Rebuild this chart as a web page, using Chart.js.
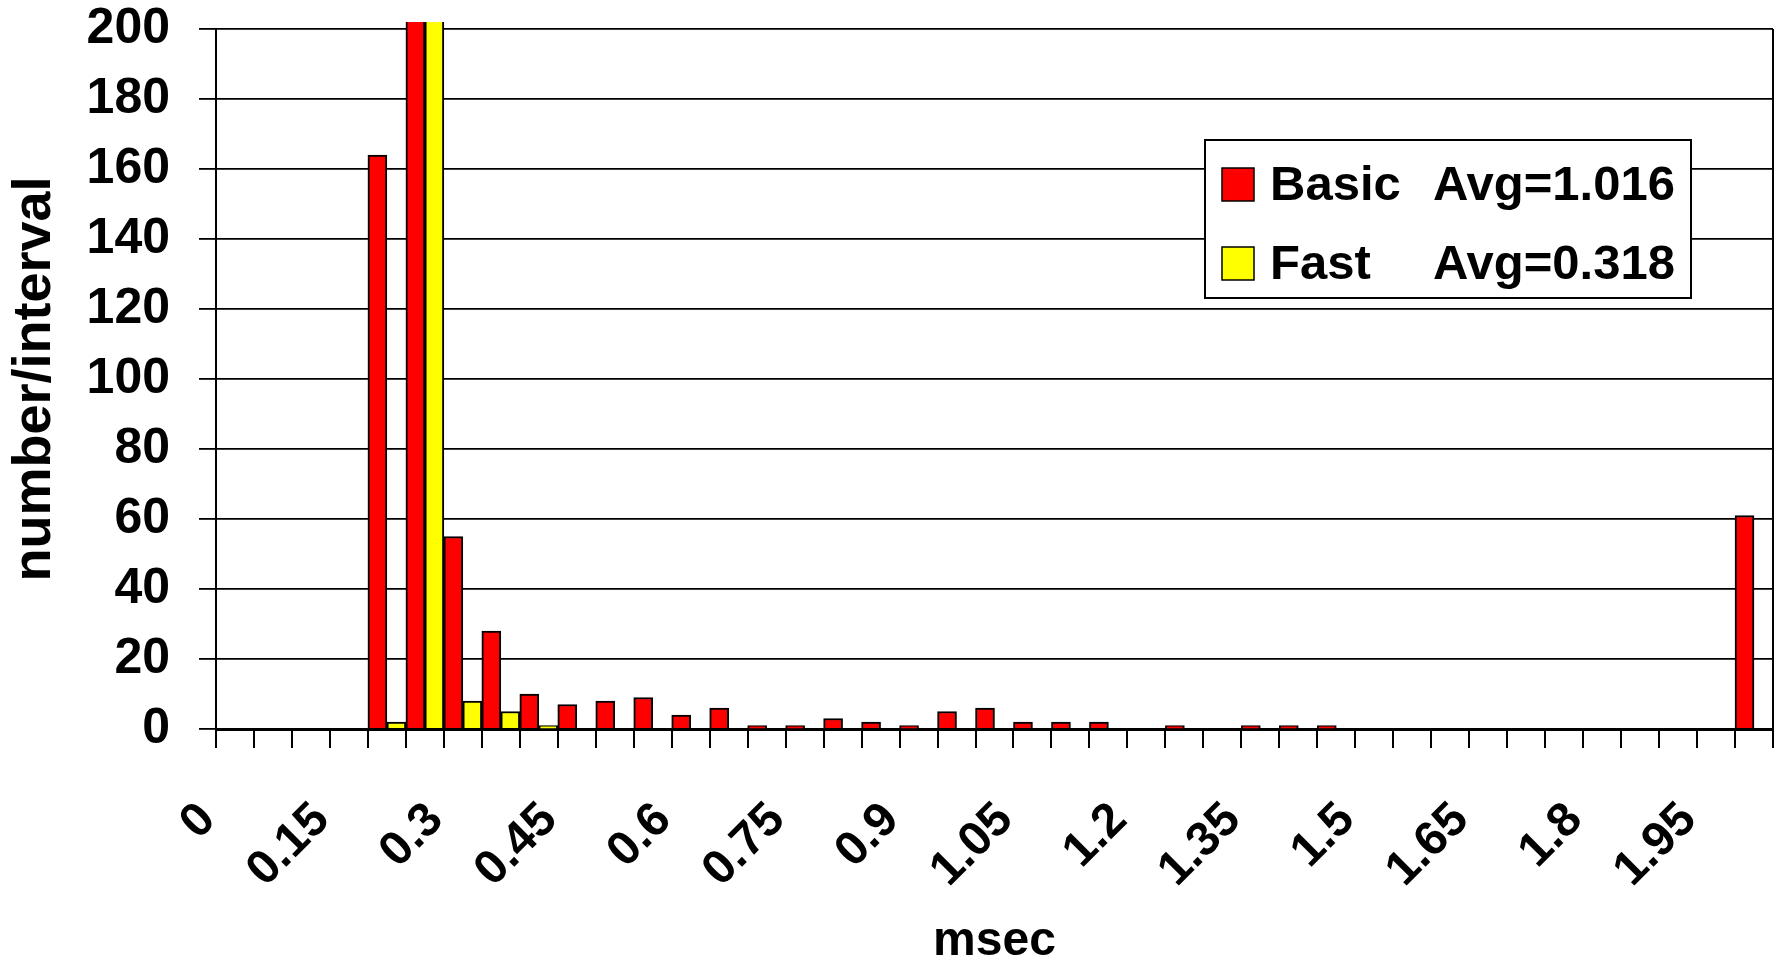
<!DOCTYPE html>
<html>
<head>
<meta charset="utf-8">
<script src="https://cdn.jsdelivr.net/npm/chart.js@4"></script>
<style>
  body { margin: 0; background: #fff; }
  #wrap { width: 1780px; height: 965px; }
</style>
</head>
<body>
<div id="wrap"><canvas id="myChart"></canvas></div>
<script>
// Data
const categories = ['0', '0.05', '0.1', '0.15', '0.2', '0.25', '0.3', '0.35', '0.4', '0.45',
    '0.5', '0.55', '0.6', '0.65', '0.7', '0.75', '0.8', '0.85', '0.9', '0.95',
    '1', '1.05', '1.1', '1.15', '1.2', '1.25', '1.3', '1.35', '1.4', '1.45',
    '1.5', '1.55', '1.6', '1.65', '1.7', '1.75', '1.8', '1.85', '1.9', '1.95', '2'];
// number/interval, Basic (red) and Fast (yellow); the 0.25 bin runs off the top
const basicValues = [0, 0, 0, 0, 164, 232, 55, 28, 10, 7,
    8, 9, 4, 6, 1, 1, 3, 2, 1, 5,
    6, 2, 2, 2, 0, 1, 0, 1, 1, 1,
    0, 0, 0, 0, 0, 0, 0, 0, 0, 0, 61];
const fastValues = [0, 0, 0, 0, 2, 420, 8, 5, 1, 0,
    0, 0, 0, 0, 0, 0, 0, 0, 0, 0,
    0, 0, 0, 0, 0, 0, 0, 0, 0, 0,
    0, 0, 0, 0, 0, 0, 0, 0, 0, 0, 0];
const seriesNames = ['Basic', 'Fast'];
const seriesAvgs = ['Avg=1.016', 'Avg=0.318'];
const seriesColors = ['#ff0000', '#ffff00'];
const yTicks = { min: 0, max: 200, step: 20 };
const labelEvery = 3;

const FONT = '"Liberation Sans", Arial, sans-serif';

// legend box drawn inside the plot, top right
const boxLegend = {
    id: 'boxLegend',
    afterDraw(chart) {
        const ctx = chart.ctx;
        ctx.save();
        ctx.fillStyle = '#fff';
        ctx.strokeStyle = '#000';
        ctx.lineWidth = 2;
        ctx.fillRect(1205, 140, 486, 158);
        ctx.strokeRect(1205, 140, 486, 158);
        ctx.font = 'bold 49px ' + FONT;
        ctx.textBaseline = 'alphabetic';
        for (let i = 0; i < seriesNames.length; i++) {
            const top = 168 + i * 79;
            ctx.fillStyle = seriesColors[i];
            ctx.fillRect(1222, top, 32, 33);
            ctx.lineWidth = 1.5;
            ctx.strokeRect(1222, top, 32, 33);
            ctx.fillStyle = '#000';
            ctx.fillText(seriesNames[i], 1270, top + 32);
            ctx.fillText(seriesAvgs[i], 1433, top + 32);
        }
        ctx.restore();
    }
};

let myChart = document.getElementById('myChart').getContext('2d');

let barChart = new Chart(myChart, {
    type: 'bar',
    data: {
        labels: categories,
        datasets: [basicValues, fastValues].map(function (vals, i) {
            return {
                label: seriesNames[i],
                data: vals,
                backgroundColor: seriesColors[i],
                borderColor: '#000',
                borderWidth: 2,
                barPercentage: 1,
                categoryPercentage: 1,
                clip: { left: 0, top: 7, right: 0, bottom: 0 }
            };
        })
    },
    options: {
        responsive: true,
        maintainAspectRatio: false,
        animation: false,
        layout: { padding: { top: 29, right: 7, left: 0, bottom: 0 } },
        plugins: {
            legend: { display: false },
            tooltip: { enabled: false }
        },
        scales: {
            x: {
                grid: {
                    offset: true,
                    drawOnChartArea: true,
                    // only the closing line on the right of the plot
                    color: function (c) { return c.type === 'tick' ? 'rgba(0,0,0,0)' : '#000'; },
                    lineWidth: 2,
                    tickColor: '#000',
                    tickWidth: 2,
                    tickLength: 19
                },
                border: { color: '#000', width: 3 },
                ticks: {
                    autoSkip: false,
                    maxRotation: 45,
                    minRotation: 45,
                    padding: 44,
                    labelOffset: -27,
                    color: '#000',
                    font: { family: FONT, size: 48, weight: 'bold' },
                    callback: function (value, index) {
                        return index % labelEvery === 0 ? categories[index] : '';
                    }
                },
                title: {
                    display: true,
                    text: 'msec',
                    color: '#000',
                    font: { family: FONT, size: 48, weight: 'bold' },
                    padding: { top: 0, bottom: -6 }
                },
                afterFit: function (scale) {
                    scale.height = 236;
                    scale.paddingLeft = 0;
                    scale.paddingRight = 0;
                }
            },
            y: {
                min: yTicks.min,
                max: yTicks.max,
                grid: { color: '#000', lineWidth: 1.8, tickLength: 17, tickColor: '#000' },
                border: { color: '#000', width: 2 },
                ticks: {
                    stepSize: yTicks.step,
                    padding: 29,
                    color: '#000',
                    font: { family: FONT, size: 50, weight: 'bold' }
                },
                title: {
                    display: true,
                    text: 'number/interval',
                    color: '#000',
                    font: { family: FONT, size: 54, weight: 'bold' },
                    padding: { top: 3, bottom: 0 }
                },
                afterFit: function (scale) {
                    scale.width = 216;
                    scale.paddingTop = 0;
                    scale.paddingBottom = 0;
                }
            }
        }
    },
    plugins: [boxLegend]
});
</script>
</body>
</html>
